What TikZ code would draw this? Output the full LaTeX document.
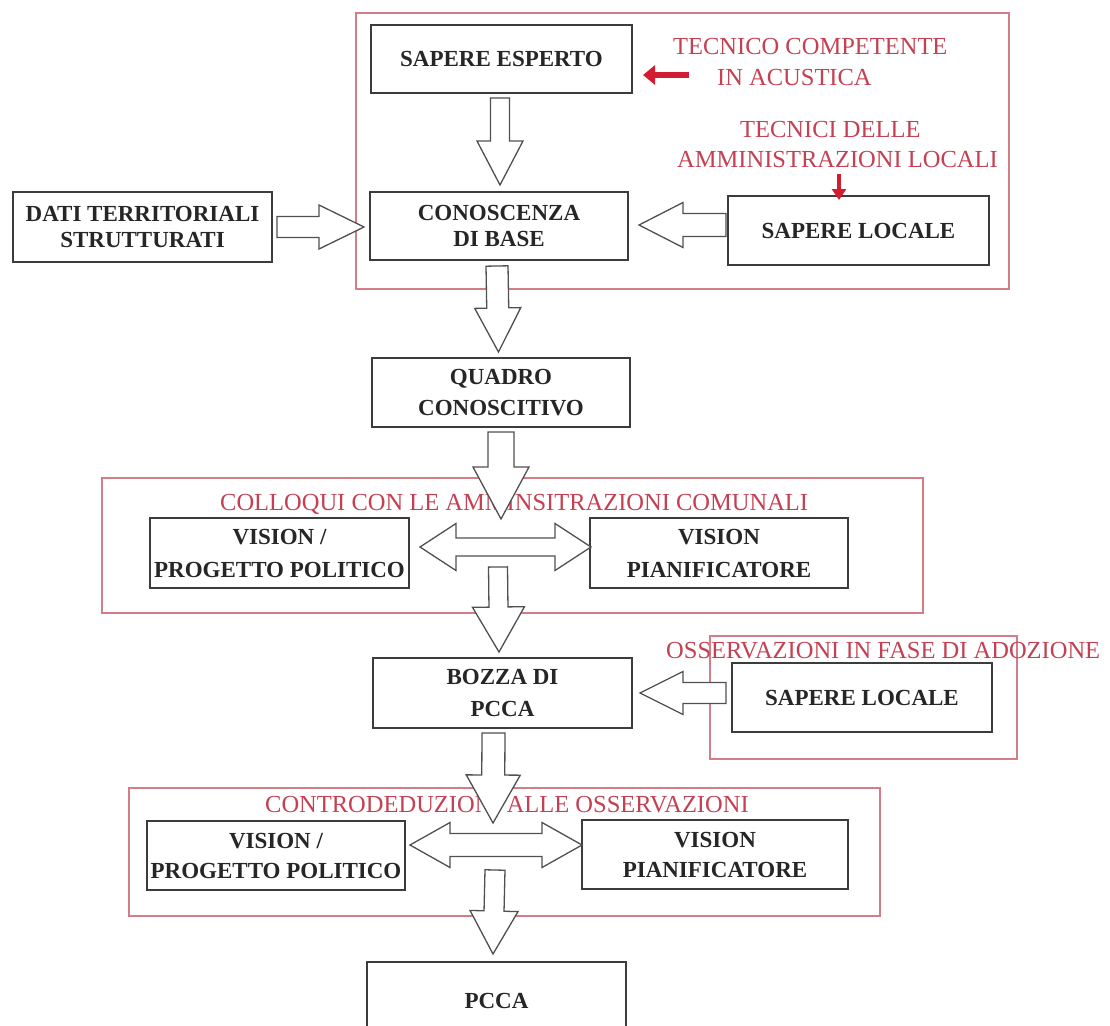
\documentclass[tikz,border=0pt]{standalone}
\usepackage{fontspec}
\setmainfont{Liberation Serif}
\usetikzlibrary{calc,arrows.meta}
\definecolor{frmcol}{RGB}{212,125,135}
\definecolor{redtxt}{RGB}{196,64,82}
\definecolor{redarr}{RGB}{212,28,48}
\definecolor{boxline}{RGB}{60,60,60}
\definecolor{boxtxt}{RGB}{38,38,38}
\definecolor{blkline}{RGB}{80,80,80}
\tikzset{
  box/.style={draw=boxline, line width=2.1pt, fill=white, align=center, text=boxtxt,
    font=\fontsize{23}{30}\selectfont\bfseries, inner sep=0pt, outer sep=0pt},
  tight/.style={font=\fontsize{23}{25.5}\selectfont\bfseries},
  loose/.style={font=\fontsize{23}{33}\selectfont\bfseries},
  frm/.style={draw=frmcol, line width=1.8pt, inner sep=0pt, outer sep=0pt},
  lbl/.style={text=redtxt, font=\fontsize{24.5}{30}\selectfont, inner sep=0pt, anchor=base west},
  blk/.style={draw=blkline, line width=1.3pt, fill=white, line join=miter},
  redar/.style={draw=redarr, line width=6.5pt, -{Triangle[length=12pt,width=19pt]}},
  redarsm/.style={draw=redarr, line width=4.5pt, -{Triangle[length=11pt,width=14pt]}},
}
% single block arrow: #1 start, #2 tip, #3 half shaft, #4 half head, #5 head length
\newcommand\blkarrow[5]{%
  \coordinate (ba) at ($(#2)!#5pt!(#1)$);
  \draw[blk] ($(#1)!#3pt!90:(#2)$) -- ($(ba)!#3pt!90:(#2)$) -- ($(ba)!#4pt!90:(#2)$) -- (#2)
    -- ($(ba)!#4pt!-90:(#2)$) -- ($(ba)!#3pt!-90:(#2)$) -- ($(#1)!#3pt!-90:(#2)$) -- cycle;
}
% double block arrow between tips #1 and #2
\newcommand\dblarrow[5]{%
  \coordinate (bb1) at ($(#1)!#5pt!(#2)$);
  \coordinate (bb2) at ($(#2)!#5pt!(#1)$);
  \draw[blk] (#1) -- ($(bb1)!#4pt!90:(#2)$) -- ($(bb1)!#3pt!90:(#2)$) -- ($(bb2)!#3pt!90:(#2)$)
    -- ($(bb2)!#4pt!90:(#2)$) -- (#2) -- ($(bb2)!#4pt!-90:(#2)$) -- ($(bb2)!#3pt!-90:(#2)$)
    -- ($(bb1)!#3pt!-90:(#2)$) -- ($(bb1)!#4pt!-90:(#2)$) -- cycle;
}
\begin{document}
\begin{tikzpicture}[x=1pt,y=-1pt]
\path[use as bounding box] (0,0) rectangle (1110,1025);
\clip (0,0) rectangle (1110,1025);
\fill[white] (0,0) rectangle (1110,1025);

% frames
\node[frm, minimum width=653pt, minimum height=276pt] (f1) at (682.5,151) {};
\node[frm, minimum width=821pt, minimum height=135pt] (f2) at (512.5,545.5) {};
\node[frm, minimum width=307pt, minimum height=123pt] (f3) at (863.5,697.5) {};
\node[frm, minimum width=751pt, minimum height=128pt] (f4) at (504.5,852) {};

% red labels
\node[lbl] (t1a) at (673,55) {TECNICO COMPETENTE};
\node[lbl] (t1b) at (717,85) {IN ACUSTICA};
\node[lbl] (t2a) at (740,137) {TECNICI DELLE};
\node[lbl] (t2b) at (677,167) {AMMINISTRAZIONI LOCALI};
\node[lbl] (t3) at (220,510) {COLLOQUI CON LE AMMINSITRAZIONI COMUNALI};
\node[lbl] (t4) at (666,658) {OSSERVAZIONI IN FASE DI ADOZIONE};
\node[lbl] (t5) at (265,812) {CONTRODEDUZIONI ALLE OSSERVAZIONI};

% boxes
\node[box, minimum width=261pt, minimum height=68pt] (esperto) at (501.5,59) {SAPERE ESPERTO};
\node[box, tight, minimum width=258pt, minimum height=68pt] (conosc) at (499,226) {CONOSCENZA\\DI BASE};
\node[box, minimum width=261pt, minimum height=69pt] (locale1) at (858.5,230.5) {SAPERE LOCALE};
\node[box, tight, minimum width=259pt, minimum height=70pt] (dati) at (142.5,227) {DATI TERRITORIALI\\STRUTTURATI};
\node[box, font=\fontsize{23}{31}\selectfont\bfseries, minimum width=258pt, minimum height=69pt] (quadro) at (501,392.5) {QUADRO\\CONOSCITIVO};
\node[box, loose, minimum width=259pt, minimum height=70pt] (vpol1) at (279.5,553) {VISION /\\PROGETTO POLITICO};
\node[box, loose, minimum width=258pt, minimum height=70pt] (vpian1) at (719,553) {VISION\\PIANIFICATORE};
\node[box, font=\fontsize{23}{32}\selectfont\bfseries, minimum width=259pt, minimum height=70pt] (bozza) at (502.5,693) {BOZZA DI\\PCCA};
\node[box, minimum width=260pt, minimum height=69pt] (locale2) at (862,697.5) {SAPERE LOCALE};
\node[box, minimum width=258pt, minimum height=69pt] (vpol2) at (276,855.5) {VISION /\\PROGETTO POLITICO};
\node[box, minimum width=266pt, minimum height=69pt] (vpian2) at (715,854.5) {VISION\\PIANIFICATORE};
\node[box, minimum width=259pt, minimum height=78pt] (pcca) at (496.5,1001) {PCCA};

% connector end points
\coordinate (a1s) at ($(esperto.south)+(-1.5,5)$);
\coordinate (a1t) at ($(conosc.north)+(1,-7)$);
\coordinate (a2s) at ($(dati.east)+(5,0)$);
\coordinate (a2t) at ($(conosc.west)+(-6,1)$);
\coordinate (a3s) at ($(locale1.west)+(-2,-5.5)$);
\coordinate (a3t) at ($(conosc.east)+(11,-1)$);
\coordinate (a4s) at ($(conosc.south)+(-2,6)$);
\coordinate (a4t) at ($(quadro.north)+(-2.5,-6)$);
\coordinate (a5s) at ($(quadro.south)+(0,5)$);
\coordinate (a5t) at ($(quadro.south|-f2.north)+(0,41)$);
\coordinate (d1a) at ($(vpol1.east)+(11,-6)$);
\coordinate (d1b) at ($(vpian1.west)+(1,-6)$);
\coordinate (a7s) at ($(quadro.south|-vpol1.east)+(-3,14)$);
\coordinate (a7t) at ($(bozza.north)+(-3.5,-6)$);
\coordinate (a8s) at ($(locale2.west)+(-6,-4.5)$);
\coordinate (a8t) at ($(bozza.east)+(8,0)$);
\coordinate (a9s) at ($(bozza.south)+(-9,5)$);
\coordinate (a9t) at ($(bozza.south|-f4.north)+(-9.5,35)$);
\coordinate (d2a) at ($(vpol2.east)+(5,-10.5)$);
\coordinate (d2b) at ($(vpian2.west)+(0,-9.5)$);
\coordinate (a11s) at ($(bozza.south|-vpol2.east)+(-7.5,14.5)$);
\coordinate (a11t) at ($(pcca.north)+(-3.5,-8)$);

% block arrows
\blkarrow{a1s}{a1t}{9.5}{23}{44}
\blkarrow{a2s}{a2t}{10.5}{22}{45}
\blkarrow{a3s}{a3t}{11.5}{22.5}{44}
\blkarrow{a4s}{a4t}{11}{23}{44}
\blkarrow{a5s}{a5t}{13}{28}{52}
\dblarrow{d1a}{d1b}{9}{23.5}{36}
\blkarrow{a7s}{a7t}{9.5}{26}{45}
\blkarrow{a8s}{a8t}{10.5}{21.5}{43}
\blkarrow{a9s}{a9t}{11.5}{27}{48}
\dblarrow{d2a}{d2b}{11.5}{22.5}{40}
\blkarrow{a11s}{a11t}{10}{24}{43}

% red arrows
\coordinate (r1s) at ($(t1b.base west)+(-28,-10)$);
\coordinate (r1t) at ($(esperto.east)+(11,16)$);
\draw[redar] (r1s) -- (r1t);
\coordinate (r2s) at ($(locale1.north)+(-19.5,-22)$);
\draw[redarsm] (r2s) -- ($(locale1.north)+(-19.5,4)$);
\end{tikzpicture}
\end{document}
